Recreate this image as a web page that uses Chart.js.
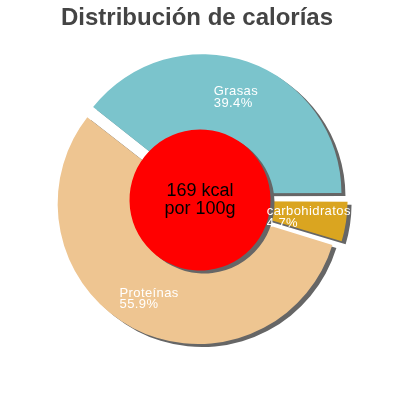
<!DOCTYPE html>
<html><head><meta charset="utf-8">
<script src="https://cdn.jsdelivr.net/npm/chart.js@4"></script>
<style>html,body{margin:0;padding:0;background:#fff}</style>
</head><body>
<canvas id="c" width="400" height="400" style="width:400px;height:400px;display:block"></canvas>
<script>
const chartTitle = 'Distribución de calorías';
const categories = ['Grasas', 'carbohidratos', 'Proteínas'];
const percentages = [39.4, 4.7, 55.9];
const energyKcal = [169];
const centerLines = ['169 kcal', 'por 100g'];
const sliceColors = ['#7bc4cc', '#daa520', '#eec591'];
const sliceOffsets = [28, 26, 16];

const shadowPlugin = {
  id: 'shadow',
  beforeDatasetsDraw(chart) {
    const ctx = chart.ctx;
    ctx.save();
    ctx.shadowColor = '#666666';
    ctx.shadowBlur = 0;
    ctx.shadowOffsetX = 4;
    ctx.shadowOffsetY = 3;
  },
  afterDatasetsDraw(chart) { chart.ctx.restore(); }
};

const textPlugin = {
  id: 'texts',
  afterDraw(chart) {
    const ctx = chart.ctx;
    ctx.save();
    ctx.font = 'bold 24px "Liberation Sans", Arial, sans-serif';
    ctx.fillStyle = '#444444';
    ctx.textAlign = 'center';
    ctx.textBaseline = 'alphabetic';
    ctx.fillText(chartTitle, 197, 25);
    const meta = chart.getDatasetMeta(0);
    ctx.font = '13px "Liberation Sans", Arial, sans-serif';
    ctx.fillStyle = '#ffffff';
    ctx.textAlign = 'left';
    if ('letterSpacing' in ctx) ctx.letterSpacing = '0.4px';
    meta.data.forEach((arc, i) => {
      const p = arc.getProps(['x', 'y', 'startAngle', 'endAngle'], true);
      const mid = (p.startAngle + p.endAngle) / 2;
      const cx = p.x + Math.cos(mid) * 110;
      const cy = p.y + Math.sin(mid) * 110;
      const l1 = categories[i];
      const l2 = percentages[i].toFixed(1) + '%';
      const w = Math.max(ctx.measureText(l1).width, ctx.measureText(l2).width);
      const left = cx - w / 2;
      ctx.fillText(l1, left, cy - 1);
      ctx.fillText(l2, left, cy + 10.5);
    });
    const m2 = chart.getDatasetMeta(1).data[0];
    if ('letterSpacing' in ctx) ctx.letterSpacing = '0px';
    ctx.font = '18px "Liberation Sans", Arial, sans-serif';
    ctx.fillStyle = '#000000';
    ctx.textAlign = 'center';
    ctx.fillText(centerLines[0], m2.x, m2.y - 4);
    ctx.fillText(centerLines[1], m2.x, m2.y + 14);
    ctx.restore();
  }
};

new Chart(document.getElementById('c'), {
  type: 'doughnut',
  data: {
    labels: categories,
    datasets: [
      { data: percentages, backgroundColor: sliceColors, borderWidth: 0, offset: sliceOffsets, radius: 136.5, cutout: 0, weight: 3, order: 1 },
      { data: energyKcal, backgroundColor: '#ff0000', borderWidth: 0, offset: 0, radius: 282, cutout: 0, weight: 1, order: 0 }
    ]
  },
  options: {
    responsive: false,
    animation: false,
    devicePixelRatio: 1,
    rotation: -51.84,
    cutout: 0,
    layout: { padding: 0 },
    events: [],
    plugins: { legend: { display: false }, tooltip: { enabled: false }, title: { display: false } }
  },
  plugins: [shadowPlugin, textPlugin]
});
</script>
</body></html>
